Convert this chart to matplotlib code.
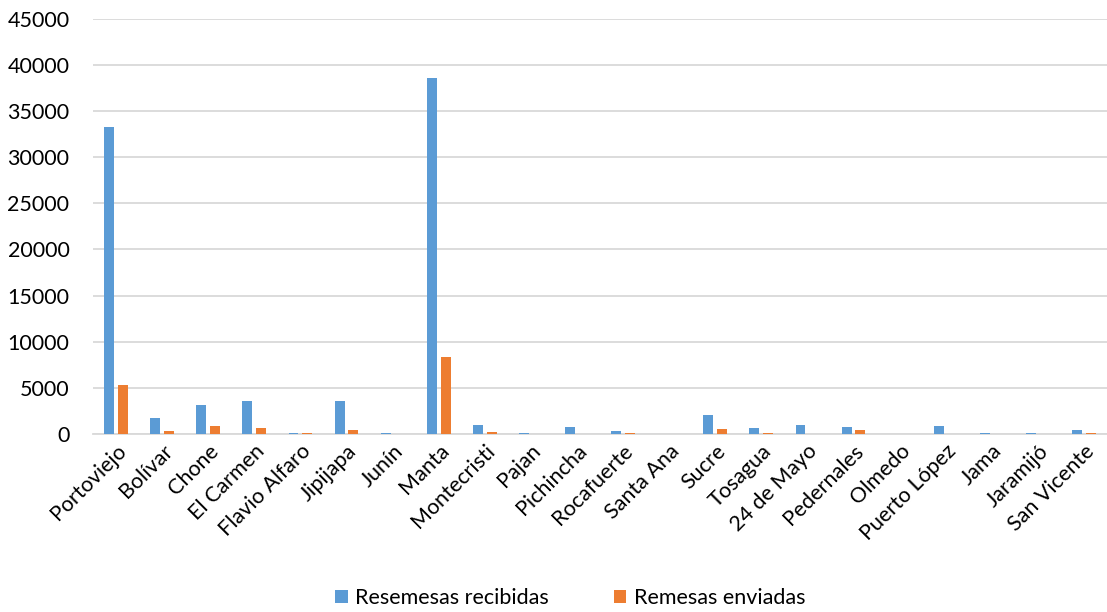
import matplotlib.pyplot as plt
import numpy as np

plt.rcParams['font.family'] = ['Lato', 'DejaVu Sans']

cantones = ["Portoviejo", "Bolívar", "Chone", "El Carmen", "Flavio Alfaro", "Jipijapa",
            "Junín", "Manta", "Montecristi", "Pajan", "Pichincha", "Rocafuerte",
            "Santa Ana", "Sucre", "Tosagua", "24 de Mayo", "Pedernales", "Olmedo",
            "Puerto López", "Jama", "Jaramijó", "San Vicente"]
recibidas = [33300, 1750, 3180, 3580, 110, 3610, 70, 38600, 1020, 60, 800, 330,
             0, 2080, 690, 950, 770, 0, 840, 80, 80, 475]
enviadas = [5250, 330, 840, 660, 70, 475, 0, 8350, 255, 0, 0, 60,
            0, 550, 80, 0, 440, 0, 0, 0, 0, 60]

x = np.arange(len(cantones))
w = 0.215

fig = plt.figure(figsize=(11.07, 6.12), dpi=100)
ax = fig.add_axes([0.084, 0.291, 0.916, 0.678])
ax.bar(x - 0.15, recibidas, w, color='#5B9BD5', label='Resemesas recibidas', zorder=3)
ax.bar(x + 0.15, enviadas, w, color='#ED7D31', label='Remesas enviadas', zorder=3)

ax.set_ylim(0, 45000)
ax.set_yticks(np.arange(0, 45001, 5000))
ax.set_xlim(-0.5, len(cantones) - 0.5)
ax.grid(axis='y', color='#D9D9D9', linewidth=1.3, zorder=0)
for s in ['top', 'right', 'left']:
    ax.spines[s].set_visible(False)
ax.spines['bottom'].set_color('#D9D9D9')
ax.spines['bottom'].set_linewidth(1.3)
ax.tick_params(axis='both', length=0, labelsize=15.5)
ax.tick_params(axis='y', pad=17)
ax.tick_params(axis='x', pad=5)
ax.set_xticks(x)
ax.set_xticklabels(cantones, rotation=45, ha='right', rotation_mode='anchor')

fig.legend(loc='lower center', ncol=2, frameon=False, fontsize=15.5,
           bbox_to_anchor=(0.515, -0.025), handlelength=0.6, handleheight=0.6,
           columnspacing=3.0, handletextpad=0.35)

fig.savefig('out.png', dpi=100)
